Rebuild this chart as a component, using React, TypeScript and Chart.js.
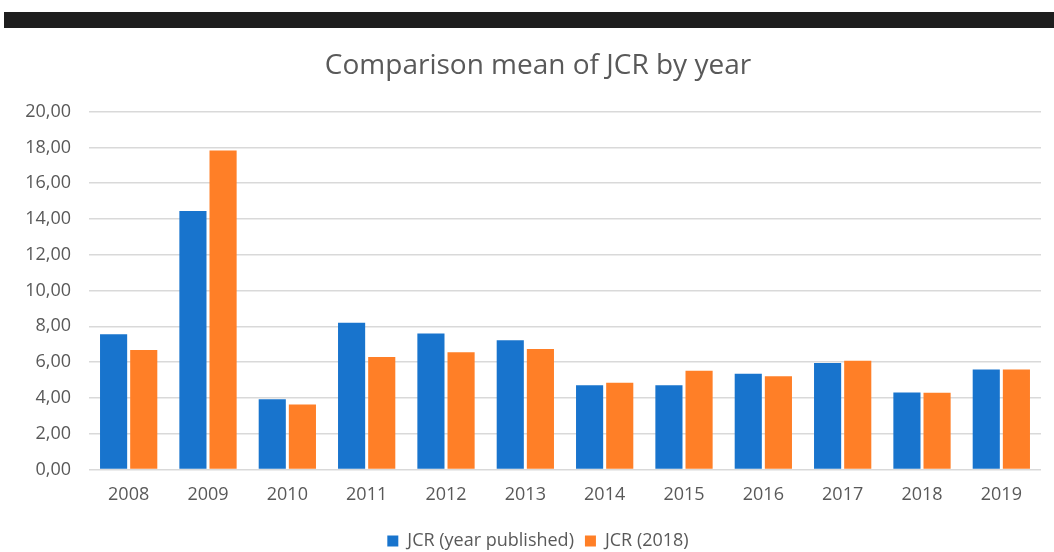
import React, { useEffect, useRef } from "react";
import { Chart, registerables } from "chart.js";

Chart.register(...registerables);

const categories = ["2008", "2009", "2010", "2011", "2012", "2013", "2014", "2015", "2016", "2017", "2018", "2019"];
const jcrYearPublished = [7.55, 14.45, 3.92, 8.2, 7.59, 7.22, 4.7, 4.7, 5.34, 5.95, 4.3, 5.58];
const jcr2018 = [6.67, 17.83, 3.63, 6.28, 6.55, 6.73, 4.85, 5.52, 5.21, 6.08, 4.28, 5.58];
const seriesNames = ["JCR (year published)", "JCR (2018)"];
const titleText = "Comparison mean of JCR by year";

const FONT = "'Open Sans', 'DejaVu Sans', sans-serif";
const TEXT = "#595959";

export default function App() {
  const ref = useRef<HTMLCanvasElement | null>(null);
  useEffect(() => {
    if (!ref.current) return;
    const chart = new Chart(ref.current, {
      type: "bar",
      data: {
        labels: categories,
        datasets: [
          { label: seriesNames[0], data: jcrYearPublished, backgroundColor: "#1874CD", borderWidth: 0 },
          { label: seriesNames[1], data: jcr2018, backgroundColor: "#FF7F27", borderWidth: 0 },
        ],
      },
      options: {
        animation: false,
        responsive: false,
        maintainAspectRatio: false,
        layout: { padding: { left: 35, right: 13, top: 0, bottom: 0 } },
        datasets: { bar: { categoryPercentage: 0.76, barPercentage: 0.9 } },
        plugins: {
          title: {
            display: true,
            text: titleText,
            color: TEXT,
            font: { family: FONT, size: 28, weight: "normal" },
            padding: { top: 19, bottom: 29 },
          },
          legend: {
            position: "bottom",
            maxHeight: 31,
            labels: {
              color: TEXT,
              font: { family: FONT, size: 18 },
              boxWidth: 11,
              boxHeight: 11,
              padding: 11,
            },
          },
          tooltip: { enabled: false },
        },
        scales: {
          x: {
            grid: { display: false, drawTicks: false },
            border: { display: false },
            ticks: { color: TEXT, font: { family: FONT, size: 18 }, padding: 15 },
          },
          y: {
            min: 0,
            max: 20,
            afterFit: (s: any) => {
              s.width = 54;
              s._computeLabelArea = () => undefined;
            },
            grid: { color: "#d9d9d9", lineWidth: 1.5, drawTicks: false },
            border: { display: false },
            ticks: {
              stepSize: 2,
              color: TEXT,
              font: { family: FONT, size: 18 },
              padding: 18,
              callback: (v: any) => Number(v).toFixed(2).replace(".", ","),
            },
          },
        },
      },
    });
    return () => chart.destroy();
  }, []);

  return (
    <div style={{ position: "fixed", left: 0, top: 0, width: 1054, height: 552, background: "#fff", overflow: "hidden" }}>
      <div style={{ position: "absolute", left: 4, top: 12, width: 1050, height: 16, background: "#1e1e1e" }} />
      <canvas ref={ref} width={1054} height={522} style={{ position: "absolute", left: 0, top: 30, width: 1054, height: 522 }} />
    </div>
  );
}
